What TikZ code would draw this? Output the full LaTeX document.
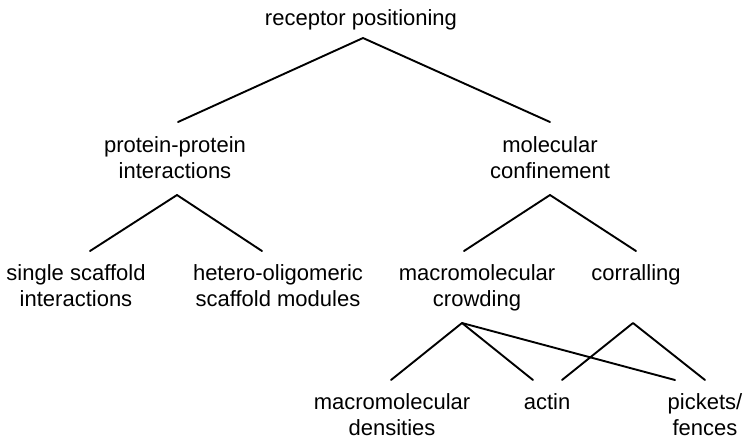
\documentclass[tikz,border=0pt]{standalone}
\usepackage{fontspec}
\setmainfont{Liberation Sans}
\newcommand{\twoline}[2]{\begin{tabular}[t]{@{}c@{}}#1\\#2\end{tabular}}
\begin{document}
\begin{tikzpicture}[x=0.5pt,y=-0.5pt,
  label/.style={inner sep=0pt, anchor=base, font=\fontsize{11}{13}\selectfont},
  link/.style={line width=0.95pt, line cap=round, line join=round}]
\useasboundingbox (0,0) rectangle (750,447);
% text nodes
\node[label] (rp)   at (361,25)  {receptor positioning};
\node[label] (ppi)  at (175,152) {\twoline{protein-protein}{interactions}};
\node[label] (mc)   at (550,152) {\twoline{molecular}{confinement}};
\node[label] (ssi)  at (76,280)  {\twoline{single scaffold}{interactions}};
\node[label] (hos)  at (278,280) {\twoline{hetero-oligomeric}{scaffold modules}};
\node[label] (mcr)  at (477,280) {\twoline{macromolecular}{crowding}};
\node[label] (cor)  at (636,280) {corralling};
\node[label] (mden) at (392,409) {\twoline{macromolecular}{densities}};
\node[label] (act)  at (547,409) {actin};
\node[label] (pf)   at (705,409) {\twoline{pickets/}{fences}};
% connector end points
\coordinate (rpB)  at (363,38);
\coordinate (ppiT) at (178,122);
\coordinate (mcT)  at (550,122);
\coordinate (ppiB) at (177,195);
\coordinate (ssiT) at (90,251);
\coordinate (hosT) at (262,251);
\coordinate (mcB)  at (550,195);
\coordinate (mcrT) at (464,251);
\coordinate (corT) at (636,251);
\coordinate (mcrB) at (462,323);
\coordinate (corB) at (633,323);
\coordinate (mdenT) at (391,380);
\coordinate (actT1) at (533,380);
\coordinate (actT2) at (562,380);
\coordinate (pfT1) at (675,380);
\coordinate (pfT2) at (705,380);
% connectors
\draw[link] (ppiT) -- (rpB) -- (mcT);
\draw[link] (ssiT) -- (ppiB) -- (hosT);
\draw[link] (mcrT) -- (mcB) -- (corT);
\draw[link] (mdenT) -- (mcrB) -- (actT1);
\draw[link] (mcrB) -- (pfT1);
\draw[link] (actT2) -- (corB) -- (pfT2);
\end{tikzpicture}
\end{document}
